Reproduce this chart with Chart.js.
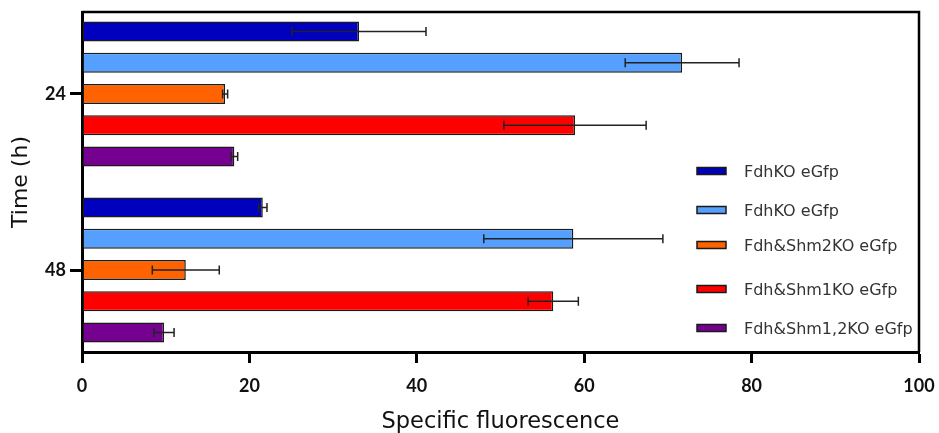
<!DOCTYPE html>
<html>
<head>
<meta charset="utf-8">
<script src="https://cdn.jsdelivr.net/npm/chart.js@4.4.1/dist/chart.umd.min.js"></script>
<style>
  html, body { margin: 0; padding: 0; background: #fff; }
  canvas { display: block; }
</style>
</head>
<body>
<canvas id="chart" width="939" height="433"></canvas>
<script>
// Sampling times (h) and the strains measured at each of them
const timePoints = [24, 48];
const strainLabels = ['FdhKO eGfp', 'FdhKO eGfp', 'Fdh&Shm2KO eGfp', 'Fdh&Shm1KO eGfp', 'Fdh&Shm1,2KO eGfp'];

// Mean specific fluorescence per strain, one value per time point
const fdhKoA   = [33.1, 21.6];
const fdhKoB   = [71.7, 58.7];
const shm2Ko   = [17.1, 12.4];
const shm1Ko   = [58.9, 56.3];
const shm12Ko  = [18.2, 9.8];

// Standard deviations (error bars)
const fdhKoAErr  = [8.0, 0.5];
const fdhKoBErr  = [6.8, 10.7];
const shm2KoErr  = [0.3, 4.0];
const shm1KoErr  = [8.5, 3.0];
const shm12KoErr = [0.4, 1.2];

// Fluorescence axis ticks
const fluorescenceTicks = [0, 20, 40, 60, 80, 100];

const seriesValues = [fdhKoA, fdhKoB, shm2Ko, shm1Ko, shm12Ko];
const seriesErrors = [fdhKoAErr, fdhKoBErr, shm2KoErr, shm1KoErr, shm12KoErr];
const palette = ['#0000BE', '#55A0FF', '#FF6200', '#FF0000', '#76008F'];

const datasets = seriesValues.map((vals, i) => ({
  label: strainLabels[i],
  data: vals,
  errorBars: seriesErrors[i],
  backgroundColor: palette[i],
  borderColor: '#1a1a1a',
  borderWidth: 1.5,
  borderSkipped: false,
  categoryPercentage: 0.888,
  barPercentage: 0.64
}));

// Symmetric whiskers with end caps, drawn on top of each bar
const errorBarPlugin = {
  id: 'errorBars',
  afterDatasetsDraw(chart) {
    const ctx = chart.ctx;
    const xs = chart.scales.x;
    ctx.save();
    ctx.strokeStyle = '#222';
    ctx.lineWidth = 1.5;
    chart.data.datasets.forEach((ds, i) => {
      const meta = chart.getDatasetMeta(i);
      meta.data.forEach((bar, j) => {
        const v = ds.data[j], e = ds.errorBars[j];
        const x1 = xs.getPixelForValue(v - e);
        const x2 = xs.getPixelForValue(v + e);
        const y = bar.y;
        ctx.beginPath();
        ctx.moveTo(x1, y); ctx.lineTo(x2, y);
        ctx.moveTo(x1, y - 4.5); ctx.lineTo(x1, y + 4.5);
        ctx.moveTo(x2, y - 4.5); ctx.lineTo(x2, y + 4.5);
        ctx.stroke();
      });
    });
    ctx.restore();
  }
};

// Closes the plot box on the top and right sides
const framePlugin = {
  id: 'frame',
  afterDraw(chart) {
    const {ctx, chartArea: a} = chart;
    ctx.save();
    ctx.strokeStyle = '#000';
    ctx.lineWidth = 2.5;
    ctx.beginPath();
    ctx.moveTo(a.left, a.top);
    ctx.lineTo(a.right, a.top);
    ctx.lineTo(a.right, a.bottom);
    ctx.stroke();
    ctx.restore();
  }
};

// Legend listed inside the plot, right side
const insideLegendPlugin = {
  id: 'insideLegend',
  afterDraw(chart, args, opts) {
    const ctx = chart.ctx;
    ctx.save();
    ctx.font = '16px "DejaVu Sans"';
    ctx.textBaseline = 'middle';
    ctx.textAlign = 'left';
    chart.data.datasets.forEach((ds, i) => {
      const y = opts.rows[i];
      ctx.fillStyle = ds.backgroundColor;
      ctx.fillRect(opts.x, y - 3.5, opts.boxWidth, 7);
      ctx.strokeStyle = '#1a1a1a';
      ctx.lineWidth = 1.5;
      ctx.strokeRect(opts.x, y - 3.5, opts.boxWidth, 7);
      ctx.fillStyle = '#333';
      ctx.fillText(ds.label, opts.x + opts.boxWidth + 18, y + 1.5);
    });
    ctx.restore();
  }
};

new Chart(document.getElementById('chart'), {
  type: 'bar',
  data: { labels: timePoints, datasets },
  options: {
    indexAxis: 'y',
    responsive: false,
    animation: false,
    layout: { padding: { top: 12, right: 20, left: 0, bottom: 0 } },
    plugins: {
      legend: { display: false },
      tooltip: { enabled: false },
      insideLegend: { x: 697, boxWidth: 29, rows: [171, 210, 245, 289, 328] }
    },
    scales: {
      x: {
        type: 'linear',
        min: 0,
        max: 100,
        afterBuildTicks: s => { s.ticks = fluorescenceTicks.map(v => ({ value: v })); },
        afterFit: s => { s.height = 81; s.paddingLeft = 0; s.paddingRight = 0; },
        grid: { drawOnChartArea: false, drawTicks: true, tickLength: 11, tickWidth: 3, tickColor: '#000' },
        border: { display: true, width: 3, color: '#000' },
        ticks: { color: '#111', padding: 12, font: { family: 'Lato', weight: 'bold', size: 18 } },
        title: {
          display: true,
          text: 'Specific fluorescence',
          color: '#111',
          padding: { top: 0, bottom: 0 },
          font: { family: 'DejaVu Sans', size: 22.5, lineHeight: 1 }
        }
      },
      y: {
        type: 'linear',
        reverse: true,
        offset: false,
        min: 12.82,
        max: 59.18,
        afterBuildTicks: s => { s.ticks = timePoints.map(v => ({ value: v })); },
        afterFit: s => { s.width = 82; s.paddingTop = 0; s.paddingBottom = 0; },
        grid: { offset: false, drawOnChartArea: false, drawTicks: true, tickLength: 12, tickWidth: 3, tickColor: '#000' },
        border: { display: true, width: 3, color: '#000' },
        ticks: { color: '#111', padding: 4, font: { family: 'Lato', weight: 'bold', size: 18 } },
        title: {
          display: true,
          text: 'Time (h)',
          color: '#111',
          padding: { top: 10, bottom: 0 },
          font: { family: 'DejaVu Sans', size: 22, lineHeight: 1 }
        }
      }
    }
  },
  plugins: [errorBarPlugin, framePlugin, insideLegendPlugin]
});
</script>
</body>
</html>
